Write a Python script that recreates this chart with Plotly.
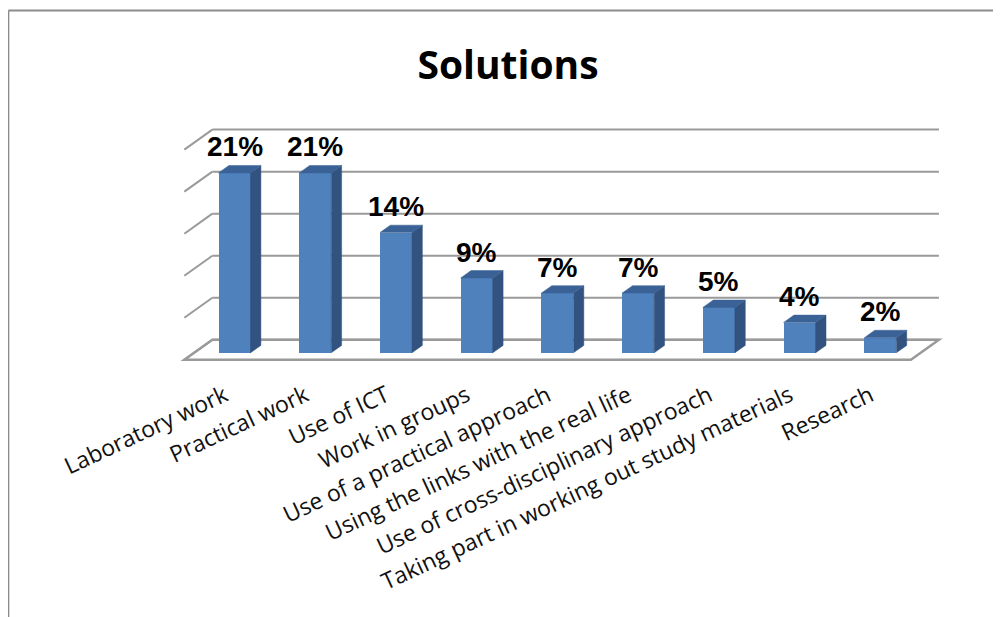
import plotly.graph_objects as go

# ---------------- data ----------------
categories = [
    "Laboratory work",
    "Practical work",
    "Use of ICT",
    "Work in groups",
    "Use of a practical approach",
    "Using the links with the real life",
    "Use of cross-disciplinary approach",
    "Taking part in working out study materials",
    "Research",
]
values = [21.4, 21.4, 14.3, 8.9, 7.1, 7.1, 5.4, 3.6, 1.8]
value_ticks = [0, 5, 10, 15, 20, 25]
title_text = "Solutions"

# ---------------- pseudo-3D projection ----------------
W, H = 1001, 617
OFF = 8.0                        # page body margin offset
PX_X0, PX_PER_X = 253.0 - OFF, 80.67   # back-wall pixel of x=0, pixels per category
PX_Y0, PX_PER_Y = 340.0 - OFF, 8.4     # back-wall pixel of 0 %, pixels per percent
DEPTH_DX = -28.0 / PX_PER_X      # shift (data units) at full depth
DEPTH_DY = -20.0 / PX_PER_Y
DF, DB = 0.65, 0.28              # bar front / back depth
BAR_W = 32.0 / PX_PER_X
X_RANGE = [-1.0, 8.6]
Y_RANGE = [-3.0, 26.5]

ml = PX_X0 + PX_PER_X * X_RANGE[0]
mr = W - (PX_X0 + PX_PER_X * X_RANGE[1])
mt = PX_Y0 - PX_PER_Y * Y_RANGE[1]
mb = H - (PX_Y0 - PX_PER_Y * Y_RANGE[0])
pw, ph = W - ml - mr, H - mt - mb

FRONT = "#4F81BD"
SIDE = "#32537F"
TOP = "#3B6296"
GRID = "#9A9A9A"

n = len(values)
xs = list(range(n))
xf = [i + DEPTH_DX * DF for i in xs]
base_f = DEPTH_DY * DF

fig = go.Figure()

# front faces
fig.add_trace(go.Bar(
    x=xf, y=values, base=[base_f] * n, width=BAR_W,
    marker=dict(color=FRONT, line=dict(width=0)),
    hoverinfo="skip", showlegend=False,
))

ddx = DEPTH_DX * (DB - DF)
ddy = DEPTH_DY * (DB - DF)
sx, sy, tx, ty = [], [], [], []
for x, v in zip(xf, values):
    xl, xr = x - BAR_W / 2, x + BAR_W / 2
    top = base_f + v
    sx += [xr, xr, xr + ddx, xr + ddx, xr, None]
    sy += [base_f, top, top + ddy, base_f + ddy, base_f, None]
    tx += [xl, xr, xr + ddx, xl + ddx, xl, None]
    ty += [top, top, top + ddy, top + ddy, top, None]

fig.add_trace(go.Scatter(x=sx, y=sy, mode="lines", fill="toself",
                         fillcolor=SIDE, line=dict(width=0.5, color=SIDE),
                         hoverinfo="skip", showlegend=False))
fig.add_trace(go.Scatter(x=tx, y=ty, mode="lines", fill="toself",
                         fillcolor=TOP, line=dict(width=0.5, color=TOP),
                         hoverinfo="skip", showlegend=False))

# walls / gridlines / floor (below the bars)
shapes = []
x_left, x_right = -0.5, n - 0.5
for t in value_ticks:
    shapes.append(dict(type="line", xref="x", yref="y", layer="below",
                       x0=x_left, y0=t, x1=x_right, y1=t,
                       line=dict(color=GRID, width=2)))
    shapes.append(dict(type="line", xref="x", yref="y", layer="below",
                       x0=x_left + DEPTH_DX, y0=t + DEPTH_DY, x1=x_left, y1=t,
                       line=dict(color=GRID, width=2)))
floor = (f"M {x_left + DEPTH_DX},{DEPTH_DY} L {x_left},0 L {x_right},0 "
         f"L {x_right + DEPTH_DX},{DEPTH_DY} Z")
shapes.append(dict(type="path", xref="x", yref="y", layer="below", path=floor,
                   line=dict(color=GRID, width=2.5)))

# outer frame (top and left edges of the chart area), in figure pixels
def px2paper_x(p):
    return (p - ml) / pw

def px2paper_y(p):
    return 1 - (p - mt) / ph

FRAME_X, FRAME_Y = 0.8, 3.0
shapes.append(dict(type="line", xref="paper", yref="paper",
                   x0=px2paper_x(FRAME_X), y0=px2paper_y(FRAME_Y),
                   x1=px2paper_x(W + 5), y1=px2paper_y(FRAME_Y),
                   line=dict(color="#8C8C8C", width=2)))
shapes.append(dict(type="line", xref="paper", yref="paper",
                   x0=px2paper_x(FRAME_X), y0=px2paper_y(FRAME_Y),
                   x1=px2paper_x(FRAME_X), y1=px2paper_y(H + 5),
                   line=dict(color="#8C8C8C", width=2)))

# data labels
annotations = []
for x, v in zip(xf, values):
    annotations.append(dict(
        x=x, y=v + DEPTH_DY * DB, xref="x", yref="y",
        text=f"<b>{round(v)}%</b>", showarrow=False,
        xanchor="center", yanchor="bottom", yshift=1,
        font=dict(family="Liberation Sans, Arial", size=28, color="#000000"),
    ))

fig.update_layout(
    template="none",
    width=W, height=H,
    margin=dict(l=ml, r=mr, t=mt, b=mb, pad=0, autoexpand=False),
    paper_bgcolor="white", plot_bgcolor="rgba(0,0,0,0)",
    shapes=shapes, annotations=annotations,
    bargap=0, showlegend=False,
    title=dict(text=f"<b>{title_text}</b>", xref="container", yref="container",
               x=(508 - OFF) / W, y=1 - (65 - OFF) / H, xanchor="center", yanchor="middle",
               font=dict(family="Open Sans", size=39, color="#000000")),
)
fig.update_xaxes(range=X_RANGE, tickvals=[i + DEPTH_DX for i in xs], ticktext=categories,
                 tickangle=-25, showgrid=False, zeroline=False, showline=False,
                 ticks="", automargin=False, ticklabelstandoff=12,
                 tickfont=dict(family="Open Sans", size=23, color="#111111"))
fig.update_yaxes(range=Y_RANGE, showgrid=False, zeroline=False, showline=False,
                 showticklabels=False, ticks="", automargin=False)

fig.write_html("out.html")
